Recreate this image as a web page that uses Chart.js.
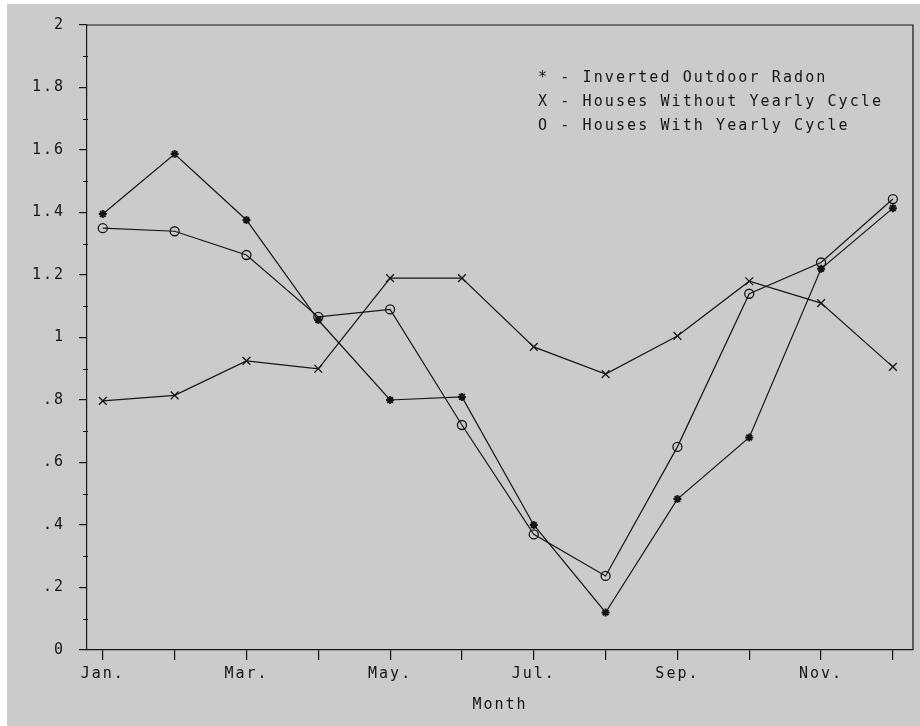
<!DOCTYPE html>
<html>
<head>
<meta charset="utf-8">
<script src="https://cdn.jsdelivr.net/npm/chart.js@4.4.1/dist/chart.umd.min.js"></script>
<style>
  html, body { margin: 0; padding: 0; background: #fff; }
  #wrap { width: 920px; height: 726px; }
</style>
</head>
<body>
<div id="wrap"><canvas id="myChart" width="920" height="726"></canvas></div>
<script>
// DATA
const months = ['Jan.', 'Feb.', 'Mar.', 'Apr.', 'May.', 'Jun.', 'Jul.', 'Aug.', 'Sep.', 'Oct.', 'Nov.', 'Dec.'];
const monthLabels = ['Jan.', '', 'Mar.', '', 'May.', '', 'Jul.', '', 'Sep.', '', 'Nov.', ''];
const outdoorRadon = [1.395, 1.587, 1.376, 1.056, 0.80, 0.81, 0.40, 0.12, 0.483, 0.68, 1.22, 1.414];
const withoutCycle = [0.797, 0.815, 0.925, 0.90, 1.19, 1.19, 0.97, 0.883, 1.005, 1.18, 1.11, 0.906];
const withCycle = [1.35, 1.34, 1.264, 1.066, 1.09, 0.72, 0.37, 0.237, 0.65, 1.14, 1.24, 1.443];
const legendLines = [
  '* - Inverted Outdoor Radon',
  'X - Houses Without Yearly Cycle',
  'O - Houses With Yearly Cycle'
];
const yMinorTicks = [0.1, 0.3, 0.5, 0.7, 0.9, 1.1, 1.3, 1.5, 1.7, 1.9];

const ink = '#151515';
const paper = '#cbcbcb';
const mono = "'DejaVu Sans Mono', monospace";

function toPoints(arr) {
  return arr.map((v, i) => ({ x: i, y: v }));
}

// paper background + scan edge
const paperPlugin = {
  id: 'paper',
  beforeDraw(chart) {
    const c = chart.ctx;
    c.save();
    c.fillStyle = '#ffffff';
    c.fillRect(0, 0, chart.width, chart.height);
    c.fillStyle = paper;
    c.fillRect(7, 4, chart.width - 7, chart.height - 4);
    c.restore();
    c.letterSpacing = '2px';
  }
};

// top/right frame, minor ticks and the text legend
const framePlugin = {
  id: 'frame',
  afterDraw(chart) {
    const c = chart.ctx;
    const a = chart.chartArea;
    const y = chart.scales.y;
    c.save();
    c.strokeStyle = ink;
    c.lineWidth = 1.2;
    c.beginPath();
    c.moveTo(a.left, a.top);
    c.lineTo(a.right, a.top);
    c.lineTo(a.right, a.bottom);
    c.stroke();

    c.lineWidth = 1;
    yMinorTicks.forEach(v => {
      const py = Math.round(y.getPixelForValue(v)) + 0.5;
      c.beginPath();
      c.moveTo(a.left - 4, py);
      c.lineTo(a.left + 1, py);
      c.stroke();
    });

    c.fillStyle = ink;
    c.font = '15px ' + mono;
    c.letterSpacing = '2.1px';
    c.textAlign = 'left';
    c.textBaseline = 'middle';
    legendLines.forEach((t, i) => {
      c.fillText(t, a.left + 451, a.top + 53 + i * 24);
    });
    c.restore();
  }
};

const ctx = document.getElementById('myChart').getContext('2d');

const myChart = new Chart(ctx, {
  type: 'line',
  data: {
    datasets: [{
      label: 'Inverted Outdoor Radon',
      data: toPoints(outdoorRadon),
      borderColor: ink,
      backgroundColor: ink,
      borderWidth: 1.2,
      pointStyle: 'star',
      pointRadius: 4,
      pointBorderWidth: 2
    }, {
      label: 'Houses Without Yearly Cycle',
      data: toPoints(withoutCycle),
      borderColor: ink,
      backgroundColor: ink,
      borderWidth: 1.2,
      pointStyle: 'crossRot',
      pointRadius: 5.5,
      pointBorderWidth: 1.3
    }, {
      label: 'Houses With Yearly Cycle',
      data: toPoints(withCycle),
      borderColor: ink,
      backgroundColor: 'rgba(0,0,0,0)',
      borderWidth: 1.2,
      pointStyle: 'circle',
      pointRadius: 4.5,
      pointBorderWidth: 1.3
    }]
  },
  options: {
    responsive: false,
    animation: false,
    events: [],
    layout: { padding: { left: 0, top: 25, right: 7, bottom: 0 } },
    plugins: {
      legend: { display: false },
      tooltip: { enabled: false }
    },
    scales: {
      x: {
        type: 'linear',
        min: -0.22,
        max: 11.28,
        afterBuildTicks: s => { s.ticks = months.map((m, i) => ({ value: i })); },
        afterFit: s => { s.height = 76; },
        border: { display: true, color: ink, width: 1.2 },
        grid: { drawOnChartArea: false, drawTicks: true, tickLength: 10, color: ink, lineWidth: 1.2 },
        ticks: {
          autoSkip: false,
          maxRotation: 0,
          padding: 5,
          color: ink,
          font: { family: mono, size: 15 },
          callback: (v, i) => monthLabels[i]
        },
        title: {
          display: true,
          text: 'Month',
          color: ink,
          font: { family: mono, size: 15 },
          padding: { top: 0, bottom: 12 }
        }
      },
      y: {
        min: 0,
        max: 2,
        afterFit: s => { s.width = 87; },
        border: { display: true, color: ink, width: 1.2 },
        grid: { drawOnChartArea: false, drawTicks: true, tickLength: 8, color: ink, lineWidth: 1.2 },
        ticks: {
          stepSize: 0.2,
          padding: 14,
          color: ink,
          font: { family: mono, size: 15 },
          callback: v => Number(v.toFixed(1)).toString().replace(/^0\./, '.')
        }
      }
    }
  },
  plugins: [paperPlugin, framePlugin]
});
</script>
</body>
</html>
